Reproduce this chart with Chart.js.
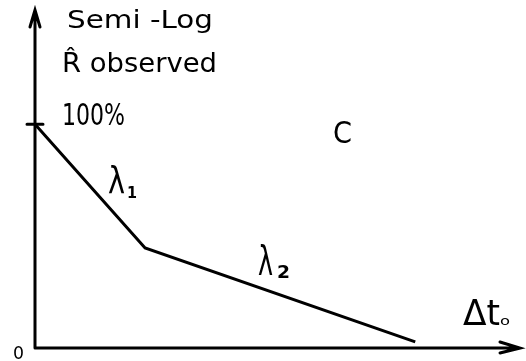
<!DOCTYPE html>
<html>
<head>
<meta charset="utf-8">
<script src="https://cdn.jsdelivr.net/npm/chart.js@4/dist/chart.umd.min.js"></script>
<style>
  html, body { margin: 0; padding: 0; background: #fff; }
  #wrap { width: 526px; height: 361px; }
</style>
</head>
<body>
<div id="wrap"><canvas id="sketch"></canvas></div>
<script>
// Values (arbitrary units, x = time, y = observed R)
const timePoints = [0, 22.7, 78.4];
const observedR = [100, 44.7, 2.7];
const xMax = 100;
const yMax = 151;

// text labels of the sketch
const axisTitle = ["Semi -Log", "R\u0302 observed"];
const startLabel = "100%";
const curveLabel = "C";
const slopeLabels = ["\u03bb", "\u03bb"];
const slopeSubs = ["1", "2"];
const xTitle = ["\u0394t", "o"];
const originLabel = "0";

const ink = "#000";
const handFont = "'DejaVu Sans', sans-serif";

// draw text at a given size, squeezed/stretched to a given width
function sketchText(ctx, text, x, baseline, size, width, bold) {
    ctx.font = (bold ? "bold " : "") + size + "px " + handFont;
    const w = ctx.measureText(text).width;
    ctx.save();
    ctx.translate(x, baseline);
    ctx.scale(width / w, 1);
    ctx.fillText(text, 0, 0);
    ctx.restore();
}

// axes with arrows + handwritten labels
const sketchPlugin = {
    id: "sketch",
    afterDraw(chart) {
        const ctx = chart.ctx;
        const xs = chart.scales.x, ys = chart.scales.y;
        const x0 = xs.getPixelForValue(0), y0 = ys.getPixelForValue(0);
        const xEnd = xs.getPixelForValue(xMax), yTop = ys.getPixelForValue(yMax);
        ctx.save();
        ctx.strokeStyle = ink;
        ctx.lineWidth = 3;
        ctx.lineCap = "round";
        ctx.beginPath();
        ctx.moveTo(x0, y0);
        ctx.lineTo(x0, yTop);
        ctx.moveTo(x0, y0);
        ctx.lineTo(xEnd, y0);
        // arrow heads
        ctx.moveTo(x0 - 5, yTop + 17);
        ctx.lineTo(x0, yTop);
        ctx.lineTo(x0 + 5, yTop + 17);
        ctx.moveTo(xEnd - 20, y0 - 6);
        ctx.lineTo(xEnd, y0);
        ctx.lineTo(xEnd - 20, y0 + 5);
        // 100% tick
        const yHundred = ys.getPixelForValue(observedR[0]);
        ctx.moveTo(x0 - 8, yHundred);
        ctx.lineTo(x0 + 8, yHundred);
        ctx.stroke();

        ctx.fillStyle = ink;
        ctx.textBaseline = "alphabetic";
        ctx.textAlign = "left";
        sketchText(ctx, axisTitle[0], 67, 28, 25, 146);
        sketchText(ctx, axisTitle[1], 62, 72, 26, 155);
        sketchText(ctx, startLabel, 62, 125, 31, 63);
        sketchText(ctx, curveLabel, 333, 143, 31, 19);

        // slope labels next to each segment
        sketchText(ctx, slopeLabels[0], 108, 193, 38, 17);
        sketchText(ctx, slopeSubs[0], 127, 198, 16, 10, true);
        sketchText(ctx, slopeLabels[1], 258, 275, 40, 15);
        sketchText(ctx, slopeSubs[1], 277, 278, 18, 13, true);

        sketchText(ctx, xTitle[0], 463, 325, 36, 37);
        sketchText(ctx, xTitle[1], 500, 325, 13, 10);

        sketchText(ctx, originLabel, 13, 359, 18, 11);
        ctx.restore();
    }
};

new Chart(document.getElementById("sketch"), {
    type: "line",
    data: {
        datasets: [{
            data: timePoints.map((t, i) => ({ x: t, y: observedR[i] })),
            borderColor: ink,
            borderWidth: 3,
            pointRadius: 0,
            tension: 0,
            fill: false
        }]
    },
    options: {
        responsive: true,
        maintainAspectRatio: false,
        animation: false,
        layout: { padding: { left: 35, top: 10, right: 6, bottom: 13 } },
        scales: {
            x: { type: "linear", min: 0, max: xMax, display: false },
            y: { type: "linear", min: 0, max: yMax, display: false }
        },
        plugins: {
            legend: { display: false },
            tooltip: { enabled: false }
        }
    },
    plugins: [sketchPlugin]
});
</script>
</body>
</html>
